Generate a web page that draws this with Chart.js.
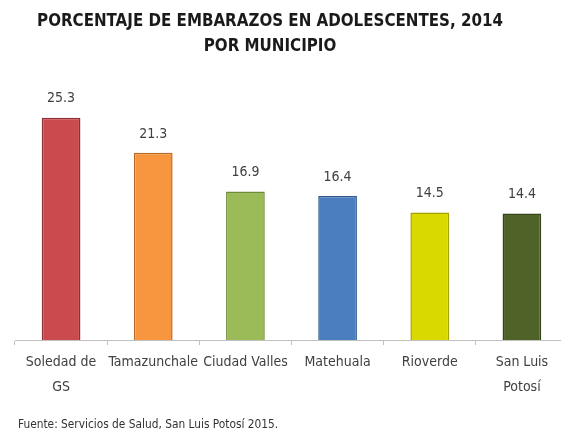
<!DOCTYPE html>
<html><head><meta charset="utf-8">
<script src="https://cdn.jsdelivr.net/npm/chart.js@4"></script>
<style>html,body{margin:0;padding:0;background:#fff;overflow:hidden}#wrap{width:561px;height:435px;position:relative;overflow:hidden}</style>
</head><body><div id="wrap"><canvas id="c" width="568" height="435"></canvas></div>
<script>
const categories = [["Soledad de","GS"],"Tamazunchale","Ciudad Valles","Matehuala","Rioverde",["San Luis","Potosí"]];
const values = [25.3, 21.3, 16.9, 16.4, 14.5, 14.4];
const barColors = ["#CB4A4D","#F7963F","#9BBB59","#4A7EBF","#D9D900","#4F6228"];
const borderColors = ["#8E3033","#B86A24","#6F8A3A","#2F5A8C","#A3A300","#37451B"];
const titleLines = ["PORCENTAJE DE EMBARAZOS EN ADOLESCENTES, 2014","POR MUNICIPIO"];
const footnote = "Fuente: Servicios de Salud, San Luis Potosí 2015.";
const NARROW = "'Liberation Sans Narrow','DejaVu Sans Condensed','Arial Narrow',sans-serif";

const extras = {
  id:'extras',
  afterDraw(chart){
    const ctx = chart.ctx;
    ctx.save();
    ctx.fillStyle = '#1a1a1a';
    ctx.textAlign = 'center';
    ctx.textBaseline = 'middle';
    ctx.font = 'bold 16.8px ' + NARROW;
    ctx.fillText(titleLines[0], 270, 22);
    ctx.fillText(titleLines[1], 270, 47);
    const meta = chart.getDatasetMeta(0);
    ctx.font = '14px ' + NARROW;
    ctx.fillStyle = '#404040';
    meta.data.forEach((bar,i)=>{
      ctx.fillText(values[i].toFixed(1), bar.x, bar.y - 19);
    });
    ctx.textAlign = 'left';
    ctx.font = '11.8px ' + NARROW;
    ctx.fillStyle = '#333';
    ctx.fillText(footnote, 18, 425);
    ctx.restore();
  }
};

new Chart(document.getElementById('c'), {
  type:'bar',
  data:{labels:categories, datasets:[{data:values, backgroundColor:barColors, borderColor:borderColors, borderWidth:1.5, barPercentage:0.42, categoryPercentage:1}]},
  options:{
    responsive:false, animation:false,
    layout:{padding:{top:94,left:15,right:0,bottom:0}},
    plugins:{legend:{display:false}, title:{display:false}, tooltip:{enabled:false}},
    scales:{
      y:{display:false, min:0, max:28},
      x:{
        afterFit(s){ s.height = 95; },
        border:{color:'#BFBFBF', width:1},
        grid:{drawOnChartArea:false, tickLength:5, color:'#BFBFBF', offset:true},
        ticks:{color:'#404040', padding:5, maxRotation:0, autoSkip:false, font:{family:NARROW, size:14, lineHeight:1.8}}
      }
    }
  },
  plugins:[extras]
});
</script></body></html>
